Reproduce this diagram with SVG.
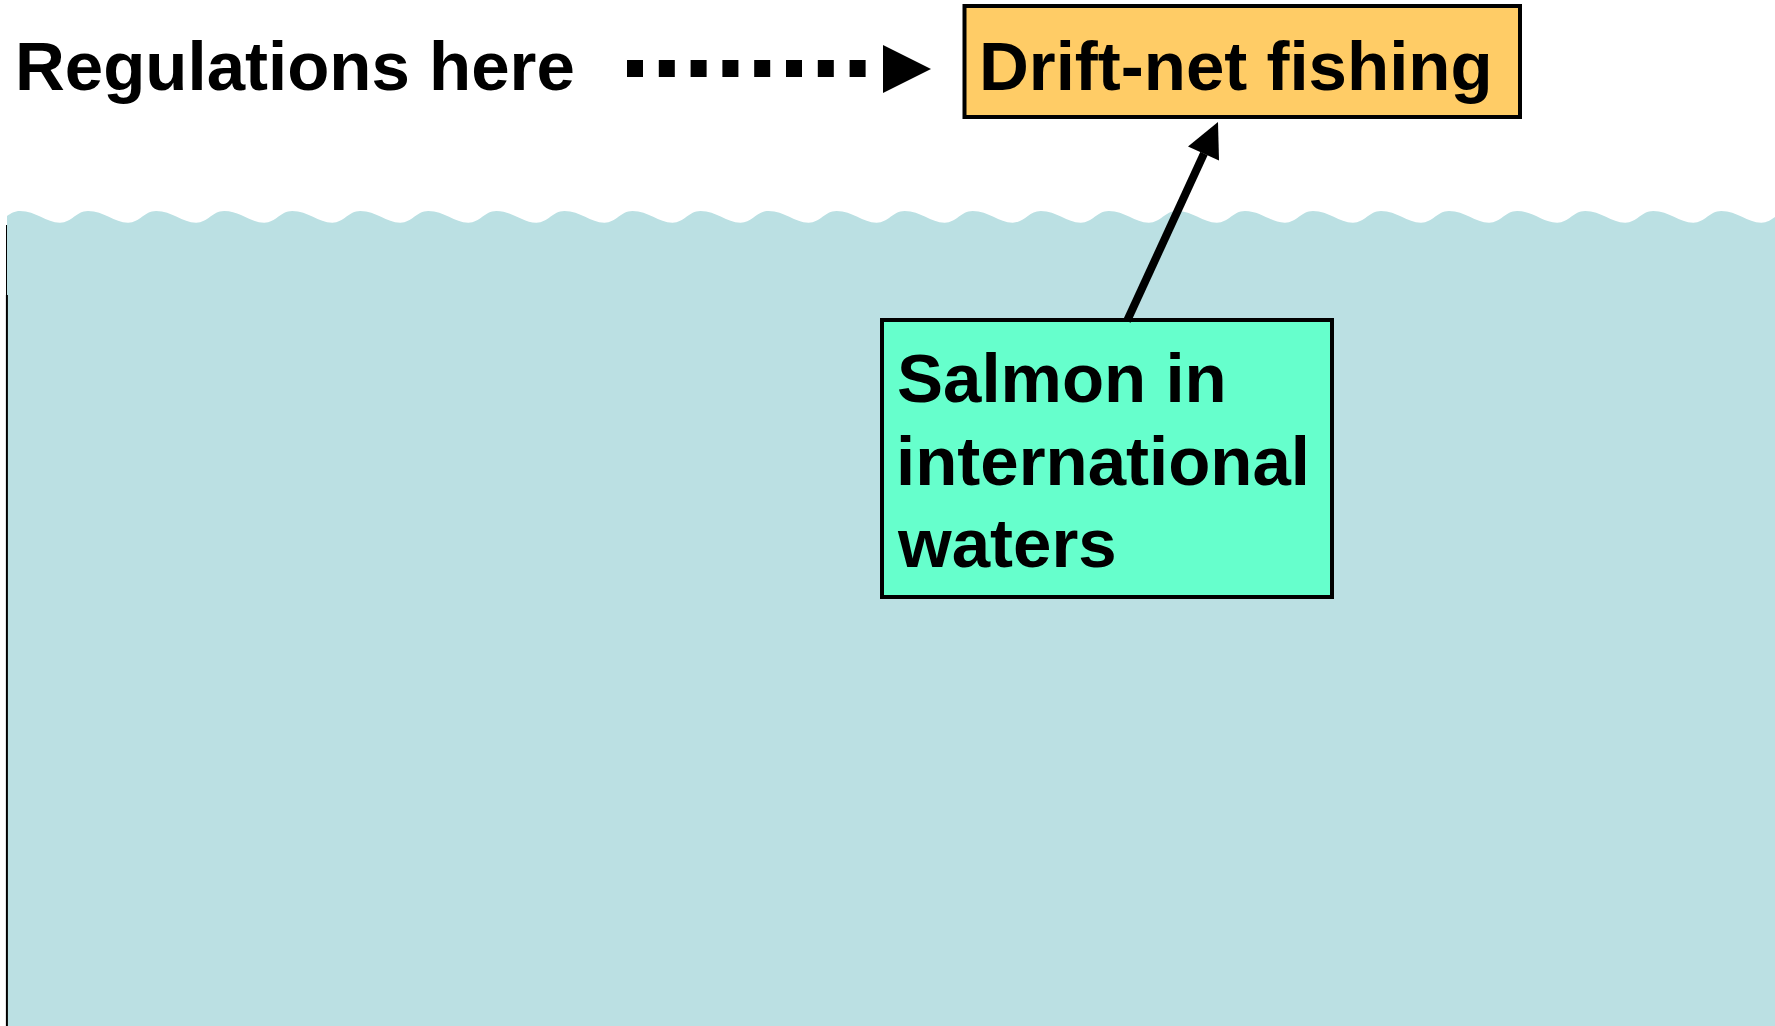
<svg xmlns="http://www.w3.org/2000/svg" width="1775" height="1026" viewBox="0 0 1775 1026">
<style>
.lbl{font-family:"Liberation Sans",Arial,sans-serif;font-weight:bold;font-size:69px;fill:#000}
.box{stroke:#000;stroke-width:4}
</style>
<defs>
<clipPath id="waterClip"><rect x="7" y="0" width="1768" height="1026"/></clipPath>
</defs>
<rect x="0" y="0" width="1775" height="1026" fill="#fff"/>
<g id="water">
<path clip-path="url(#waterClip)" fill="#BBE0E3" d="M-48.05,211 c16,0 26,11.7 40,11.7 c12,0 16.05,-11.7 28.05,-11.7 c16,0 26,11.7 40,11.7 c12,0 16.05,-11.7 28.05,-11.7 c16,0 26,11.7 40,11.7 c12,0 16.05,-11.7 28.05,-11.7 c16,0 26,11.7 40,11.7 c12,0 16.05,-11.7 28.05,-11.7 c16,0 26,11.7 40,11.7 c12,0 16.05,-11.7 28.05,-11.7 c16,0 26,11.7 40,11.7 c12,0 16.05,-11.7 28.05,-11.7 c16,0 26,11.7 40,11.7 c12,0 16.05,-11.7 28.05,-11.7 c16,0 26,11.7 40,11.7 c12,0 16.05,-11.7 28.05,-11.7 c16,0 26,11.7 40,11.7 c12,0 16.05,-11.7 28.05,-11.7 c16,0 26,11.7 40,11.7 c12,0 16.05,-11.7 28.05,-11.7 c16,0 26,11.7 40,11.7 c12,0 16.05,-11.7 28.05,-11.7 c16,0 26,11.7 40,11.7 c12,0 16.05,-11.7 28.05,-11.7 c16,0 26,11.7 40,11.7 c12,0 16.05,-11.7 28.05,-11.7 c16,0 26,11.7 40,11.7 c12,0 16.05,-11.7 28.05,-11.7 c16,0 26,11.7 40,11.7 c12,0 16.05,-11.7 28.05,-11.7 c16,0 26,11.7 40,11.7 c12,0 16.05,-11.7 28.05,-11.7 c16,0 26,11.7 40,11.7 c12,0 16.05,-11.7 28.05,-11.7 c16,0 26,11.7 40,11.7 c12,0 16.05,-11.7 28.05,-11.7 c16,0 26,11.7 40,11.7 c12,0 16.05,-11.7 28.05,-11.7 c16,0 26,11.7 40,11.7 c12,0 16.05,-11.7 28.05,-11.7 c16,0 26,11.7 40,11.7 c12,0 16.05,-11.7 28.05,-11.7 c16,0 26,11.7 40,11.7 c12,0 16.05,-11.7 28.05,-11.7 c16,0 26,11.7 40,11.7 c12,0 16.05,-11.7 28.05,-11.7 c16,0 26,11.7 40,11.7 c12,0 16.05,-11.7 28.05,-11.7 c16,0 26,11.7 40,11.7 c12,0 16.05,-11.7 28.05,-11.7 c16,0 26,11.7 40,11.7 c12,0 16.05,-11.7 28.05,-11.7 c16,0 26,11.7 40,11.7 c12,0 16.05,-11.7 28.05,-11.7 c16,0 26,11.7 40,11.7 c12,0 16.05,-11.7 28.05,-11.7 c16,0 26,11.7 40,11.7 c12,0 16.05,-11.7 28.05,-11.7 c16,0 26,11.7 40,11.7 c12,0 16.05,-11.7 28.05,-11.7 L1950,211 L1950,1026 L-48.05,1026 Z"/>
<line x1="6.5" y1="225" x2="6.5" y2="295" stroke="#000" stroke-width="1"/>
<line x1="6.9" y1="295" x2="6.9" y2="1026" stroke="#000" stroke-width="2"/>
</g>
<g id="regulations-label">
<text class="lbl" x="15" y="90">Regulations here</text>
</g>
<g id="drift-net-fishing">
<rect class="box" x="964.5" y="6" width="555.5" height="111" fill="#FFCC66"/>
<text class="lbl" x="979" y="90">Drift-net fishing</text>
</g>
<g id="salmon">
<rect class="box" x="882" y="320" width="450" height="277" fill="#66FFCC"/>
<text class="lbl" x="897" y="402">Salmon in</text>
<text class="lbl" x="896" y="485">international</text>
<text class="lbl" x="898" y="567">waters</text>
</g>
<g id="connectors">
<line x1="627" y1="68.5" x2="866" y2="68.5" stroke="#000" stroke-width="17" stroke-dasharray="16 15.8"/>
<polygon points="883,45 931,69 883,93" fill="#000"/>
<line x1="1127" y1="321" x2="1204" y2="153.5" stroke="#000" stroke-width="8"/>
<polygon points="1218,122 1188,146.4 1219,160.6" fill="#000"/>
</g>
</svg>
